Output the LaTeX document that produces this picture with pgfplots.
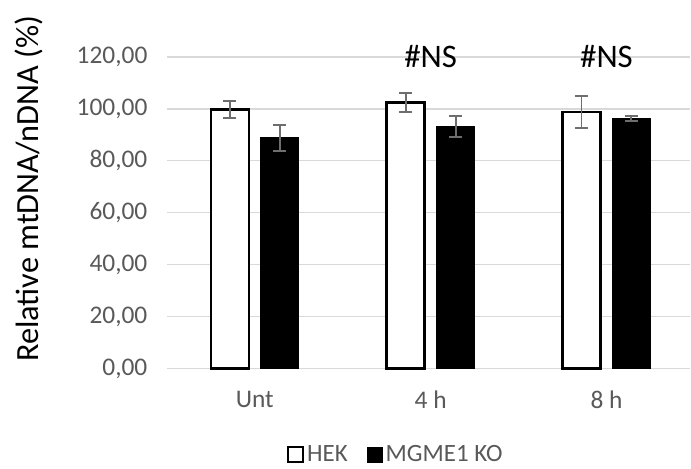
\documentclass[border=0pt]{standalone}
\usepackage{fontspec}
\setmainfont{Carlito}
\usepackage{pgfplots}
\pgfplotsset{compat=1.18}
\definecolor{txt}{HTML}{595959}
\definecolor{gridc}{HTML}{D9D9D9}
\definecolor{errc}{HTML}{6E6E6E}
\begin{document}
\begin{tikzpicture}
\begin{axis}[
  name=ax,
  scale only axis, width=524bp, height=312bp,
  xmin=-0.5, xmax=2.477, ymin=0, ymax=120,
  ytick={0,20,...,120},
  xtick={0,1,2}, xticklabels={Unt,4 h,8 h},
  ymajorgrids, grid style={gridc, line width=1.3bp},
  axis line style={draw=none}, tick style={draw=none},
  /pgf/number format/assume math mode=true,
  yticklabel style={/pgf/number format/fixed, /pgf/number format/fixed zerofill, /pgf/number format/precision=2, /pgf/number format/use comma, xshift=-16bp},
  ticklabel style={font=\fontsize{25.5}{29}\selectfont, text=txt},
  xticklabel style={yshift=-19bp},
  ylabel={Relative mtDNA/nDNA (\%)},
  ylabel style={at={(axis description cs:-0.263,0.577)}, anchor=center, font=\fontsize{32.5}{36}\selectfont, text=black},
  legend style={draw=none, fill=none, legend columns=2, at={(0.438,-0.2756)}, anchor=center,
    font=\fontsize{25}{29}\selectfont, text=txt,
    nodes={inner xsep=3bp},
    /tikz/every even column/.append style={column sep=16bp}},
  legend image code/.code={\draw[#1] (0bp,-7.5bp) rectangle (15bp,7.5bp);},
  clip=false,
]
\addplot[ybar, bar width=0.216, bar shift=0pt, draw=black, fill=white, line width=2.5bp,
  error bars/.cd, y dir=both, y explicit,
  error bar style={errc, line width=2bp},
  error mark options={errc, rotate=90, mark size=6.5bp, line width=2bp}]
  coordinates {(-0.142,99.7) +- (0,3.3) (0.858,102.4) +- (0,3.6) (1.858,98.9) +- (0,6.2)};
\addlegendentry{HEK}
\addplot[ybar, bar width=0.216, bar shift=0pt, draw=black, fill=black, line width=1bp,
  error bars/.cd, y dir=both, y explicit,
  error bar style={errc, line width=2bp},
  error mark options={errc, rotate=90, mark size=6.5bp, line width=2bp}]
  coordinates {(0.142,88.8) +- (0,5.1) (1.142,93.2) +- (0,4.0) (2.142,96.2) +- (0,1.0)};
\addlegendentry{MGME1 KO}
\node[font=\fontsize{33}{36}\selectfont, anchor=base, text=black] at (axis cs:1,115.8) {\#NS};
\node[font=\fontsize{33}{36}\selectfont, anchor=base, text=black] at (axis cs:2,115.8) {\#NS};
\end{axis}
\path (ax.south west) ++(-167bp,-100bp) rectangle ++(691bp,469bp);
\end{tikzpicture}
\end{document}
